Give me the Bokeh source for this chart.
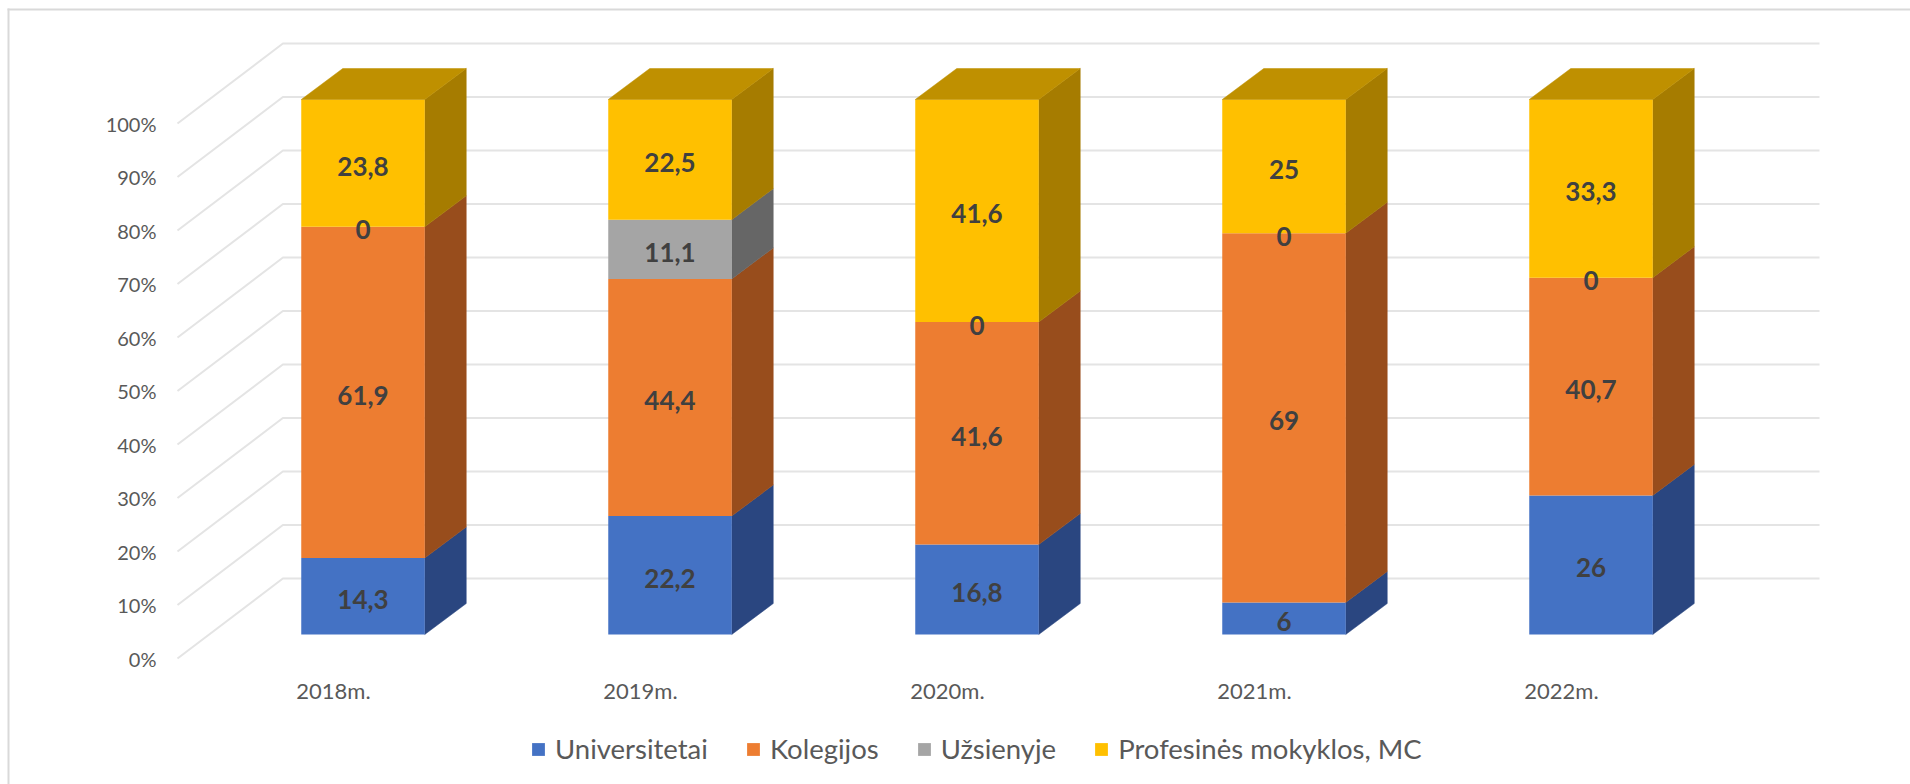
from bokeh.plotting import figure
from bokeh.models import Range1d, FixedTicker, Legend, LegendItem, BoxAnnotation, ColumnDataSource
from bokeh.core.properties import value
from bokeh.embed import file_html
from bokeh.resources import INLINE

years = ["2018m.", "2019m.", "2020m.", "2021m.", "2022m."]
universitetai = [14.3, 22.2, 16.8, 6, 26]
kolegijos = [61.9, 44.4, 41.6, 69, 40.7]
uzsienyje = [0, 11.1, 0, 0, 0]
profesines = [23.8, 22.5, 41.6, 25, 33.3]
series_names = ["Universitetai", "Kolegijos", "Užsienyje", "Profesinės mokyklos, MC"]
series_values = [universitetai, kolegijos, uzsienyje, profesines]
front_colors = ["#4472C4", "#ED7D31", "#A5A5A5", "#FFC000"]
side_colors = ["#2A4680", "#984D1C", "#666666", "#A67C00"]
top_color = "#BF9000"
y_ticks = [0, 10, 20, 30, 40, 50, 60, 70, 80, 90, 100]

FONT = "Lato"
W, H = 1910, 784
PX_X = 307.0     # pixels per category
PX_Y = 5.35      # pixels per percent
ORIGIN_X, ORIGIN_Y = 333, 658   # canvas pixel of category 0 / of 0 %

x_start = -ORIGIN_X / PX_X
x_stop = (W - ORIGIN_X) / PX_X
y_start = -(H - ORIGIN_Y) / PX_Y
y_stop = ORIGIN_Y / PX_Y

WALL_LEFT = (177 - ORIGIN_X) / PX_X
WALL_RIGHT = (1819 - ORIGIN_X) / PX_X
BAR_SHIFT = 29.5 / PX_X
BAR_HALF = 61.75 / PX_X
DEPTH_X = 41.5 / PX_X
DEPTH_Y = 31 / PX_Y
FRONT_Y = 24 / PX_Y
WALL_X = 105.4 / PX_X
WALL_Y = 80 / PX_Y

p = figure(width=W, height=H, output_backend="svg", toolbar_location=None,
           x_range=Range1d(x_start, x_stop), y_range=Range1d(y_start, y_stop),
           min_border_left=0, min_border_right=0, min_border_top=0, min_border_bottom=0,
           background_fill_color="white", border_fill_color="white")
p.outline_line_color = None
p.grid.visible = False

p.xaxis.fixed_location = 0
p.yaxis.fixed_location = WALL_LEFT
p.xaxis.ticker = FixedTicker(ticks=list(range(len(years))))
p.xaxis.major_label_overrides = {i: y for i, y in enumerate(years)}
p.yaxis.ticker = FixedTicker(ticks=y_ticks)
p.yaxis.major_label_overrides = {v: f"{v}%" for v in y_ticks}
for ax in (p.xaxis[0], p.yaxis[0]):
    ax.axis_line_color = None
    ax.major_tick_line_color = None
    ax.minor_tick_line_color = None
    ax.major_label_text_font = FONT
    ax.major_label_text_color = "#595959"
p.xaxis.major_label_text_font_size = "22px"
p.yaxis.major_label_text_font_size = "20px"
p.xaxis.major_label_standoff = 12
p.yaxis.major_label_standoff = 15

# chart border (left and top)
p.add_layout(BoxAnnotation(left=7, right=9, top=8, bottom=H, left_units="canvas", right_units="canvas",
                           top_units="canvas", bottom_units="canvas", fill_color="#D9D9D9", fill_alpha=1,
                           line_color=None, level="underlay"))
p.add_layout(BoxAnnotation(left=7, right=W, top=8, bottom=10, left_units="canvas", right_units="canvas",
                           top_units="canvas", bottom_units="canvas", fill_color="#D9D9D9", fill_alpha=1,
                           line_color=None, level="underlay"))

# gridlines: floor-side wall then back wall
p.multi_line(xs=[[WALL_LEFT, WALL_LEFT + WALL_X, WALL_RIGHT] for _ in y_ticks],
             ys=[[v, v + WALL_Y, v + WALL_Y] for v in y_ticks],
             line_color="#E4E4E4", line_width=2)

# stacks
n = len(years)
totals = [sum(s[i] for s in series_values) for i in range(n)]
bottoms = [0.0] * n
centers = [i + BAR_SHIFT for i in range(n)]
legend_items = []
lab_x, lab_y, lab_t = [], [], []
for s, name, fc, sc in zip(series_values, series_names, front_colors, side_colors):
    tops = [b + v / t * 100 for b, v, t in zip(bottoms, s, totals)]
    xs, ys = [], []
    for c, b, t in zip(centers, bottoms, tops):
        if t > b:
            xr = c + BAR_HALF
            xs.append([xr, xr + DEPTH_X, xr + DEPTH_X, xr])
            ys.append([b + FRONT_Y, b + FRONT_Y + DEPTH_Y, t + FRONT_Y + DEPTH_Y, t + FRONT_Y])
    p.patches(xs, ys, fill_color=sc, line_color=sc, line_width=0.5)
    src = ColumnDataSource(dict(x=centers, b=[b + FRONT_Y for b in bottoms], t=[t + FRONT_Y for t in tops]))
    r = p.vbar(x="x", bottom="b", top="t", width=2 * BAR_HALF, source=src, fill_color=fc, line_color=None)
    legend_items.append(LegendItem(label=name, renderers=[r]))
    for c, b, t, v in zip(centers, bottoms, tops, s):
        lab_x.append(c)
        lab_y.append((b + t) / 2 + FRONT_Y)
        lab_t.append(f"{v:g}".replace(".", ","))
    bottoms = tops

# top faces of the stacks
top_xs = [[c - BAR_HALF, c - BAR_HALF + DEPTH_X, c + BAR_HALF + DEPTH_X, c + BAR_HALF] for c in centers]
top_ys = [[t + FRONT_Y, t + FRONT_Y + DEPTH_Y, t + FRONT_Y + DEPTH_Y, t + FRONT_Y] for t in bottoms]
p.patches(top_xs, top_ys, fill_color=top_color, line_color=top_color, line_width=0.5)

p.text(lab_x, lab_y, text=lab_t, text_align="center", text_baseline="middle", y_offset=3,
       text_font=value(FONT), text_font_style="bold", text_font_size="26px", text_color="#404040")

legend = Legend(items=legend_items, orientation="horizontal", location=(530, 19),
                label_text_font=FONT, label_text_font_size="27.5px", label_text_color="#595959",
                glyph_width=16, glyph_height=16, label_standoff=9, spacing=37,
                padding=0, margin=0, border_line_color=None, background_fill_color=None)
p.add_layout(legend, "center")

open("out.html", "w").write(file_html(p, INLINE))
